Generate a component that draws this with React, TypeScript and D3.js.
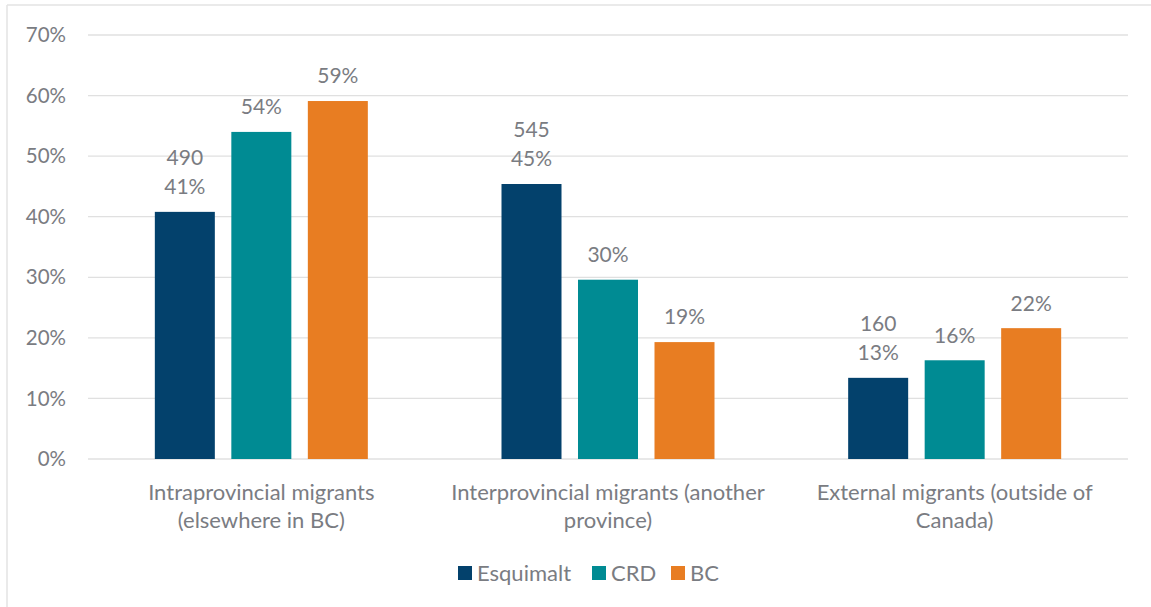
import React from "react";
import * as d3 from "d3";

const categories = [
  ["Intraprovincial migrants", "(elsewhere in BC)"],
  ["Interprovincial migrants (another", "province)"],
  ["External migrants (outside of", "Canada)"],
];
const seriesNames = ["Esquimalt", "CRD", "BC"];
const seriesColors = ["#03416C", "#008B93", "#E87D22"];
const esquimalt = [40.8, 45.4, 13.4];
const crd = [54.0, 29.6, 16.3];
const bc = [59.1, 19.3, 21.6];
const esquimaltCounts = ["490", "545", "160"];
const yTicks = [0, 10, 20, 30, 40, 50, 60, 70];

const W = 1151;
const H = 607;
const FONT = "Lato, 'Open Sans', sans-serif";
const TEXT = "#7a7c82";

export default function App() {
  const left = 88, right = 1128, top = 35, bottom = 459;
  const y = d3.scaleLinear().domain([0, 70]).range([bottom, top]);
  const x0 = d3.scaleBand().domain(d3.range(3).map(String)).range([left, right]).paddingInner(0).paddingOuter(0);
  const groupW = x0.bandwidth();
  const barW = 60;
  const step = 76.5;
  const series = [esquimalt, crd, bc];

  return (
    <svg width={W} height={H} style={{ position: "absolute", left: 0, top: 0, background: "#fff" }} fontFamily={FONT}>
      <line x1={7} y1={5} x2={W} y2={5} stroke="#e3e3e3" strokeWidth={1.5} />
      <line x1={7} y1={5} x2={7} y2={H} stroke="#e3e3e3" strokeWidth={1.5} />
      {yTicks.map((t) => (
        <g key={t}>
          <line x1={left} x2={right} y1={y(t)} y2={y(t)} stroke="#e0e0e0" strokeWidth={1.3} />
          <text x={66} y={y(t)} dy="0.35em" textAnchor="end" fontSize={20.5} fill={TEXT}>{t}%</text>
        </g>
      ))}
      {categories.map((cat, i) => {
        const cx = (x0(String(i)) as number) + groupW / 2;
        return (
          <g key={i}>
            {series.map((s, j) => {
              const bx = cx + (j - 1) * step - barW / 2;
              const v = s[i];
              return (
                <g key={j}>
                  <rect x={bx} y={y(v)} width={barW} height={bottom - y(v)} fill={seriesColors[j]} />
                  <text x={bx + barW / 2} y={y(v) - 25} dy="0.35em" textAnchor="middle" fontSize={21} fill={TEXT}>
                    {Math.round(v)}%
                  </text>
                  {j === 0 && (
                    <text x={bx + barW / 2} y={y(v) - 54} dy="0.35em" textAnchor="middle" fontSize={21} fill={TEXT}>
                      {esquimaltCounts[i]}
                    </text>
                  )}
                </g>
              );
            })}
            {cat.map((line, k) => (
              <text key={k} x={cx} y={492 + k * 28} dy="0.35em" textAnchor="middle" fontSize={22} fill={TEXT}>
                {line}
              </text>
            ))}
          </g>
        );
      })}
      {(() => {
        const items = [
          { x: 458, label: seriesNames[0] },
          { x: 592, label: seriesNames[1] },
          { x: 671, label: seriesNames[2] },
        ];
        return items.map((it, j) => (
          <g key={j}>
            <rect x={it.x} y={566} width={14} height={14} fill={seriesColors[j]} />
            <text x={it.x + 19} y={573} dy="0.35em" fontSize={22} fill={TEXT}>{it.label}</text>
          </g>
        ));
      })()}
    </svg>
  );
}
